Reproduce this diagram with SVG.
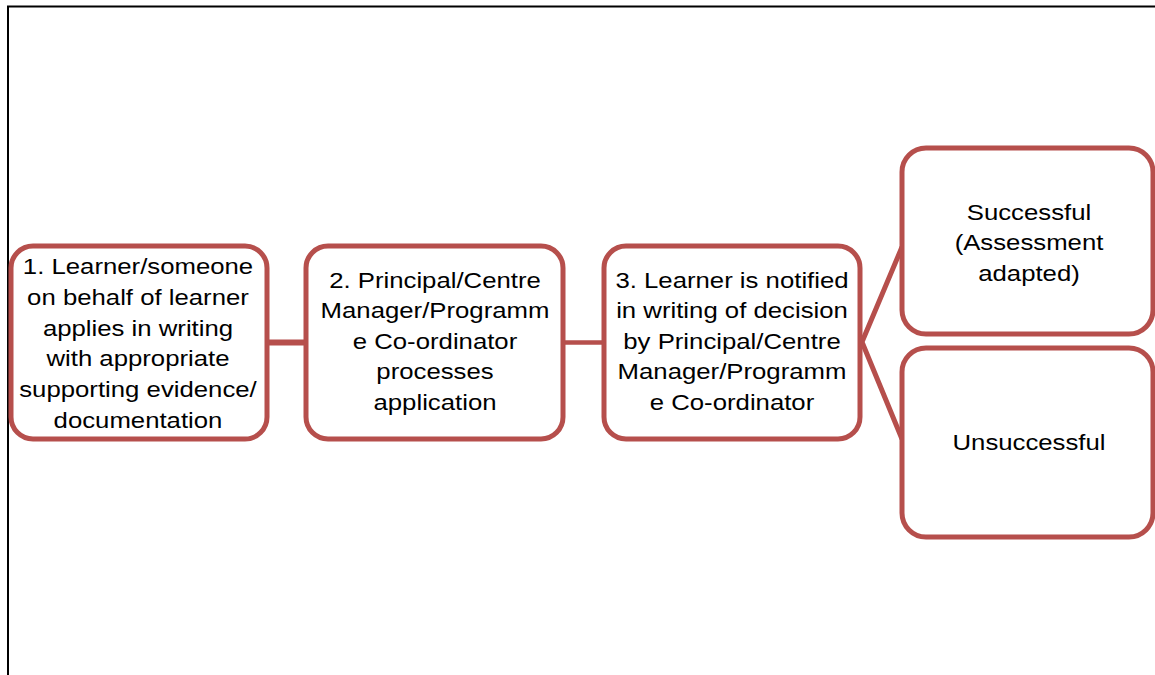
<svg xmlns="http://www.w3.org/2000/svg" width="1155" height="675" viewBox="0 0 1155 675">
<style>
.box{fill:#ffffff;stroke:#b64f4c;stroke-width:5}
.conn{stroke:#b64f4c;fill:none}
.t{font-family:"Liberation Sans",Arial,sans-serif;font-size:22px;fill:#000000;text-anchor:middle}
</style>
<rect x="0" y="0" width="1155" height="675" fill="#ffffff"/>
<path d="M8 675 V6.5 H1155" fill="none" stroke="#000000" stroke-width="2"/>
<g id="connectors">
<line class="conn" x1="267" y1="342.5" x2="305" y2="342.5" stroke-width="6"/>
<line class="conn" x1="563" y1="342.5" x2="604" y2="342.5" stroke-width="4.5"/>
<polyline class="conn" points="902,247 862,342 902,439" stroke-width="5"/>
</g>
<g id="node1">
<rect class="box" x="11" y="246" width="256" height="193" rx="22"/>
<g transform="translate(138 0) scale(1.17 1)">
<text class="t" x="0" y="274">1. Learner/someone</text>
<text class="t" x="0" y="304.8">on behalf of learner</text>
<text class="t" x="0" y="335.6">applies in writing</text>
<text class="t" x="0" y="366.4">with appropriate</text>
<text class="t" x="0" y="397.2">supporting evidence/</text>
<text class="t" x="0" y="428">documentation</text>
</g>
</g>
<g id="node2">
<rect class="box" x="306" y="246" width="257" height="193" rx="22"/>
<g transform="translate(435 0) scale(1.17 1)">
<text class="t" x="0" y="288">2. Principal/Centre</text>
<text class="t" x="0" y="318.5">Manager/Programm</text>
<text class="t" x="0" y="349">e Co-ordinator</text>
<text class="t" x="0" y="379.5">processes</text>
<text class="t" x="0" y="410">application</text>
</g>
</g>
<g id="node3">
<rect class="box" x="604" y="246" width="256" height="193" rx="22"/>
<g transform="translate(732 0) scale(1.17 1)">
<text class="t" x="0" y="288">3. Learner is notified</text>
<text class="t" x="0" y="318.5">in writing of decision</text>
<text class="t" x="0" y="349">by Principal/Centre</text>
<text class="t" x="0" y="379.5">Manager/Programm</text>
<text class="t" x="0" y="410">e Co-ordinator</text>
</g>
</g>
<g id="node4">
<rect class="box" x="902" y="148" width="251" height="186" rx="24"/>
<g transform="translate(1029 0) scale(1.17 1)">
<text class="t" x="0" y="220">Successful</text>
<text class="t" x="0" y="250.5">(Assessment</text>
<text class="t" x="0" y="281">adapted)</text>
</g>
</g>
<g id="node5">
<rect class="box" x="902" y="348" width="251" height="189" rx="24"/>
<g transform="translate(1029 0) scale(1.17 1)">
<text class="t" x="0" y="450">Unsuccessful</text>
</g>
</g>
</svg>
